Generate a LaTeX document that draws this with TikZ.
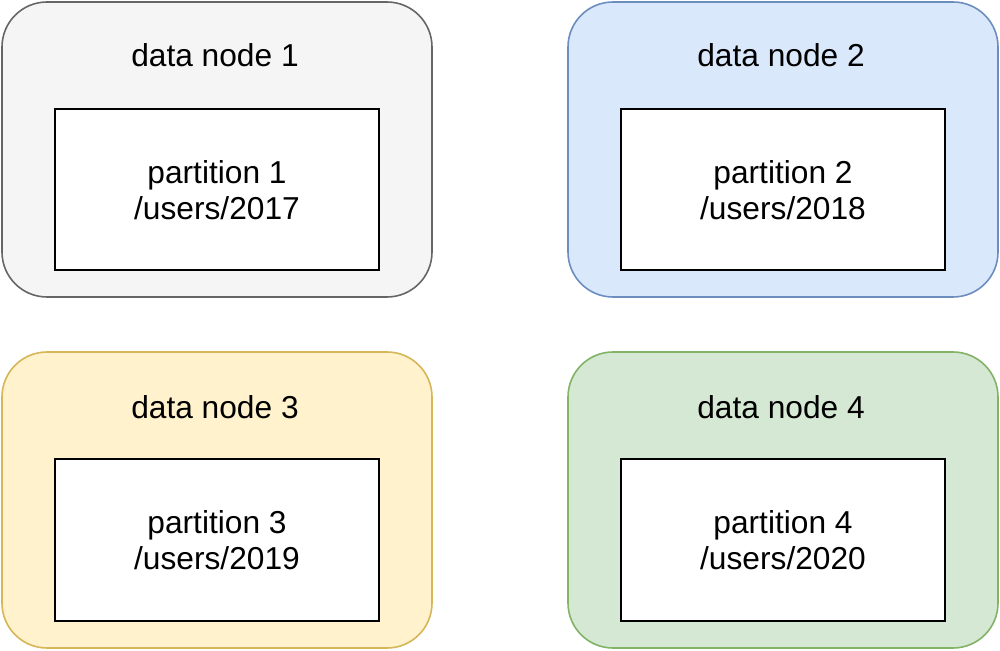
\documentclass[tikz,border=0pt]{standalone}
\usepackage{fontspec}
\setmainfont{Liberation Sans}
\definecolor{grayfill}{HTML}{F5F5F5}\definecolor{graydraw}{HTML}{666666}
\definecolor{bluefill}{HTML}{DAE8FC}\definecolor{bluedraw}{HTML}{6C8EBF}
\definecolor{yelfill}{HTML}{FFF2CC}\definecolor{yeldraw}{HTML}{D6B656}
\definecolor{grnfill}{HTML}{D5E8D4}\definecolor{grndraw}{HTML}{82B366}
\begin{document}
\begin{tikzpicture}[x=1pt,y=1pt,
  outerbox/.style={rounded corners=45pt,line width=1.6pt},
  innerbox/.style={draw=black,fill=white,line width=2pt,minimum width=324pt,minimum height=161pt,inner sep=0pt,align=center,font=\fontsize{31.7}{36}\selectfont},
  title/.style={font=\fontsize{31.7}{36}\selectfont,inner sep=0pt}]
\useasboundingbox (0,0) rectangle (1000,650);
% outer boxes
\draw[outerbox,draw=graydraw,fill=grayfill] (2,648) rectangle (432,353);
\draw[outerbox,draw=bluedraw,fill=bluefill] (568,648) rectangle (998,353);
\draw[outerbox,draw=yeldraw,fill=yelfill] (2,298) rectangle (432,2);
\draw[outerbox,draw=grndraw,fill=grnfill] (568,298) rectangle (998,2);
% titles
\node[title] (t1) at (215,595) {data node 1};
\node[title] (t2) at (781,595) {data node 2};
\node[title] (t3) at (215,243) {data node 3};
\node[title] (t4) at (781,243) {data node 4};
% partitions
\node[innerbox] (p1) at (217,460) {partition 1\\/users/2017};
\node[innerbox] (p2) at (783,460) {partition 2\\/users/2018};
\node[innerbox] (p3) at (217,110) {partition 3\\/users/2019};
\node[innerbox] (p4) at (783,110) {partition 4\\/users/2020};
\end{tikzpicture}
\end{document}
